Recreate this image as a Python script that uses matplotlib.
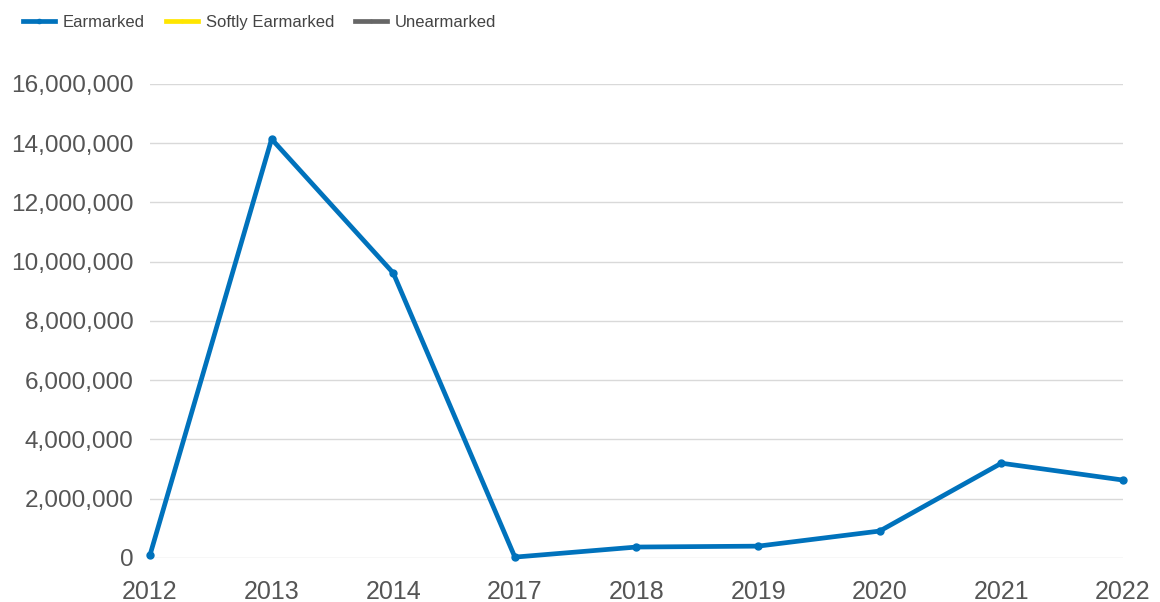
import matplotlib
matplotlib.use("Agg")
from matplotlib import pyplot as plt
from matplotlib.ticker import FuncFormatter

plt.rcParams['font.family'] = ['Liberation Sans', 'DejaVu Sans']

years = ['2012', '2013', '2014', '2017', '2018', '2019', '2020', '2021', '2022']
earmarked = [100000, 14140000, 9620000, 30000, 370000, 400000, 910000, 3200000, 2630000]
softly_earmarked = []
unearmarked = []

series_names = ['Earmarked', 'Softly Earmarked', 'Unearmarked']
series_colors = ['#0072BC', '#FFE600', '#666666']

fig = plt.figure(figsize=(11.6, 6.02), dpi=100)
ax = fig.add_axes([0.1293, 0.0731, 0.8388, 0.7874])

x = list(range(len(years)))
ax.plot(x, earmarked, color=series_colors[0], lw=3.4, marker='o', ms=5,
        label=series_names[0], solid_joinstyle='round', clip_on=False, zorder=3)
ax.plot(softly_earmarked, softly_earmarked, color=series_colors[1], lw=3.4, marker='o', ms=3,
        label=series_names[1])
ax.plot(unearmarked, unearmarked, color=series_colors[2], lw=3.4, marker='o', ms=3,
        label=series_names[2])

ax.set_xlim(0, len(years) - 1)
ax.set_ylim(0, 16000000)
ax.set_yticks(range(0, 16000001, 2000000))
ax.yaxis.set_major_formatter(FuncFormatter(lambda v, p: '{:,.0f}'.format(v)))
ax.set_xticks(x)
ax.set_xticklabels(years)

ax.grid(axis='y', color='#d9d9d9', lw=1)
ax.set_axisbelow(True)
for s in ax.spines.values():
    s.set_visible(False)
ax.tick_params(axis='both', length=0, labelsize=17, colors='#555555')
ax.tick_params(axis='y', labelsize=17.6, pad=12)
ax.tick_params(axis='x', labelsize=18, pad=16)

leg = fig.legend(loc='upper left', bbox_to_anchor=(0.007, 1.0), ncol=3, frameon=False,
                 fontsize=12, handlelength=1.9, handletextpad=0.5, columnspacing=1.25,
                 markerscale=0.6)
for t in leg.get_texts():
    t.set_color('#444444')

fig.savefig('out.png', dpi=100)
